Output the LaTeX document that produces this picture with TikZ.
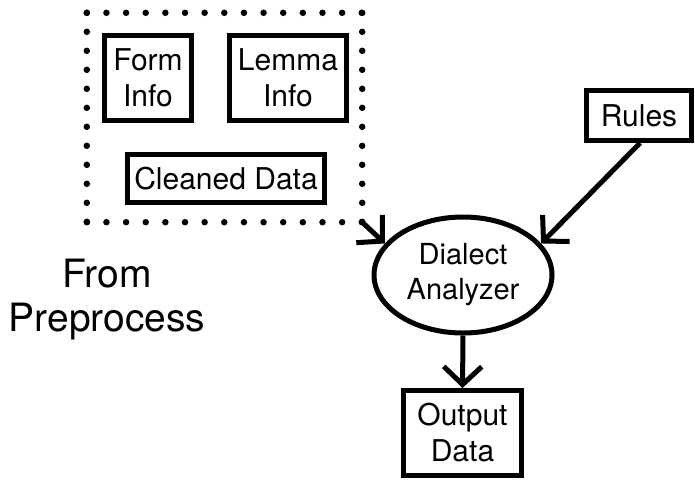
\documentclass[tikz,border=0pt]{standalone}
\usepackage{fontspec}
\setmainfont{TeX Gyre Heros}
\usetikzlibrary{arrows.meta,shapes.geometric}
\tikzset{
  box/.style={draw, line width=5pt, rectangle, inner sep=0pt, align=center,
    font=\fontsize{30}{36}\selectfont},
  dotline/.style={line width=6.5pt, line cap=round, dash pattern=on 0pt off #1},
  conn/.style={line width=5pt, -{Straight Barb[length=18pt,width=38pt]}},
}
\begin{document}
\begin{tikzpicture}[x=1pt,y=-1pt]
\useasboundingbox (0,0) rectangle (695,479);
% group (dotted)
\node[minimum width=275pt, minimum height=209pt, inner sep=0pt] (grp) at (224.5,117.5) {};
\draw[dotline=19.64pt] (grp.north west) -- (grp.north east);
\draw[dotline=19.64pt] (grp.south west) -- (grp.south east);
\draw[dotline=19pt] (grp.north west) -- (grp.south west);
\draw[dotline=19pt] (grp.north east) -- (grp.south east);
\node[box, minimum width=87pt, minimum height=85pt] (form) at (148,78) {Form\\Info};
\node[box, minimum width=117pt, minimum height=85pt] (lemma) at (288,78) {Lemma\\Info};
\node[box, minimum width=197pt, minimum height=48pt] (clean) at (226,178.5) {Cleaned Data};
\node[box, minimum width=105pt, minimum height=50pt] (rules) at (639,115.5) {Rules};
\node[draw, ellipse, line width=5pt, inner sep=0pt, minimum width=178pt, minimum height=116pt,
  align=center, font=\fontsize{29}{35}\selectfont] (ana) at (463,275) {Dialect\\Analyzer};
\node[box, minimum width=118pt, minimum height=85pt] (out) at (462.5,433) {Output\\Data};
\node[align=center, inner sep=0pt, font=\fontsize{39}{44}\selectfont] (from) at (107,300) {From\\Preprocess};
\draw[conn] (grp.south east) -- (ana.158);
\draw[conn] (rules.south) ++(1pt,0) coordinate (rs) (rs) -- (ana.22);
\draw[conn] (ana.south) -- (out.north);
\end{tikzpicture}
\end{document}
